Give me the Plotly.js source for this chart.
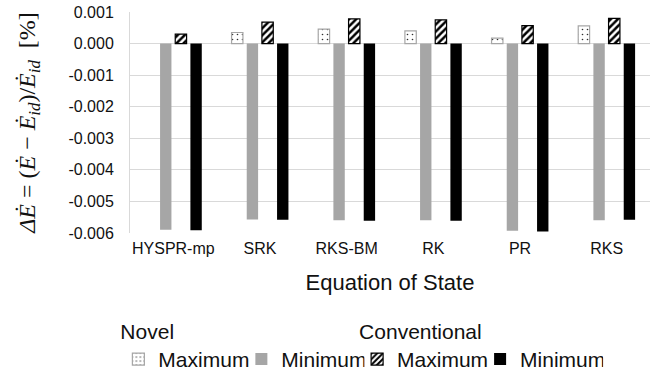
<!DOCTYPE html>
<html>
<head>
<meta charset="utf-8">
<script src="https://cdn.plot.ly/plotly-3.0.1.min.js"></script>
<style>html,body{margin:0;padding:0;background:#fff;}#chart{width:665px;height:371px;}</style>
</head>
<body>
<div id="chart"></div>
<script>
const categories = ['HYSPR-mp', 'SRK', 'RKS-BM', 'RK', 'PR', 'RKS'];
const novelMax = [null, 0.00035, 0.00046, 0.00040, 0.00017, 0.00056];
const novelMin = [-0.00590, -0.00557, -0.00560, -0.00560, -0.00593, -0.00560];
const convMax = [0.00030, 0.00068, 0.00078, 0.00075, 0.00057, 0.00080];
const convMin = [-0.00591, -0.00558, -0.00561, -0.00561, -0.00595, -0.00558];
const yTickVals = [0.001, 0.000, -0.001, -0.002, -0.003, -0.004, -0.005, -0.006];
const yTickText = ['0.001', '0.000', '-0.001', '-0.002', '-0.003', '-0.004', '-0.005', '-0.006'];

const font = 'Liberation Sans, Arial, sans-serif';
const txt = '#111111';
const traces = [
  {type:'bar', name:'Maximum', x:categories, y:novelMax, legend:'legend',
   marker:{color:'#ffffff', line:{color:'#a6a6a6', width:1.2},
     pattern:{shape:'.', fgcolor:'#303030', bgcolor:'#ffffff', size:5, solidity:0.08}}},
  {type:'bar', name:'Minimum', x:categories, y:novelMin, legend:'legend',
   marker:{color:'#a6a6a6', line:{width:0}}},
  {type:'bar', name:'Maximum', x:categories, y:convMax, legend:'legend2',
   marker:{color:'#ffffff', line:{color:'#000000', width:1.2},
     pattern:{shape:'/', fgcolor:'#000000', bgcolor:'#ffffff', size:5, solidity:0.5}}},
  {type:'bar', name:'Minimum', x:categories, y:convMin, legend:'legend2',
   marker:{color:'#000000', line:{width:0}}}
];

const legendCommon = {
  orientation:'h', xref:'container', yref:'container', xanchor:'left', yanchor:'top',
  font:{family:font, size:21, color:txt}, bgcolor:'rgba(0,0,0,0)',
  entrywidth:78, entrywidthmode:'pixels', itemclick:false, traceorder:'normal'
};

const layout = {
  width:665, height:371,
  margin:{l:130, r:15, t:12, b:138},
  paper_bgcolor:'#ffffff', plot_bgcolor:'#ffffff',
  barmode:'group', bargap:0.3, bargroupgap:0.25,
  showlegend:true,
  legend:Object.assign({}, legendCommon, {x:0.178, y:0.16,
    title:{text:'Novel', side:'top', font:{family:font, size:21, color:txt}}}),
  legend2:Object.assign({}, legendCommon, {x:0.537, y:0.16,
    title:{text:'Conventional', side:'top', font:{family:font, size:21, color:txt}}}),
  xaxis:{
    type:'category', showgrid:false, showline:false, zeroline:false, ticks:'',
    tickfont:{family:font, size:16, color:txt}, ticklabelstandoff:4,
    title:{text:'Equation of State', font:{family:font, size:22, color:txt}, standoff:18},
    automargin:false
  },
  yaxis:{
    range:[-0.006, 0.001], tickvals:yTickVals, ticktext:yTickText,
    showgrid:true, gridcolor:'#d9d9d9', gridwidth:1,
    zeroline:true, zerolinecolor:'#d9d9d9', zerolinewidth:1,
    showline:true, linecolor:'#d9d9d9', linewidth:1, ticks:'',
    tickfont:{family:font, size:16, color:txt}, ticklabelstandoff:12,
    title:{text:'<i>ΔĖ</i> = (<i>Ė</i> − <i>Ė<sub>id</sub></i>)/<i>Ė<sub>id</sub></i>  [%]',
      font:{family:'Liberation Serif, DejaVu Serif, serif', size:24, color:txt}, standoff:26},
    automargin:false
  }
};

Plotly.newPlot('chart', traces, layout, {displayModeBar:false, staticPlot:true});
</script>
</body>
</html>
